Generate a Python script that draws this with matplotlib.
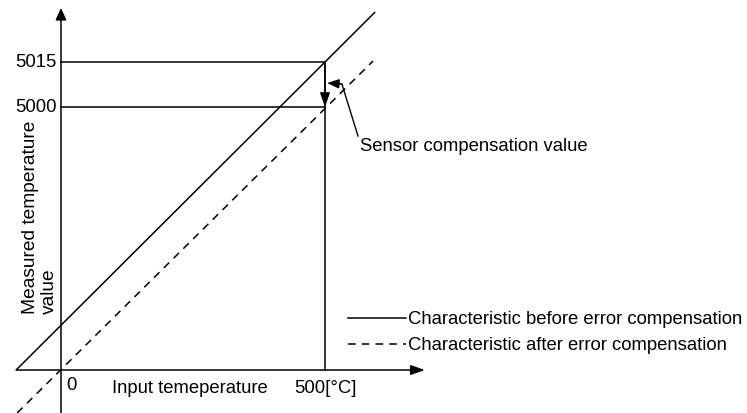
import matplotlib
matplotlib.use("Agg")
import matplotlib.pyplot as plt

plt.rcParams['font.family'] = ['Liberation Sans', 'DejaVu Sans']

# schematic data (x in degC, y in measured units; the 15-digit offset is drawn exaggerated)
before_x = [-85, 595]
before_y = [0, 6806]
after_x = [-83, 591]
after_y = [-817, 5874]
input_temp = 500
level_labels = ["5000", "5015"]
level_heights = [5000, 5856]

x_axis_ends = [-85, 689]
y_axis_ends = [-817, 6882]

fig = plt.figure(figsize=(7.47, 4.14), dpi=100)
ax = fig.add_axes([0, 0, 1, 1])
ax.set_xlim(-115.5, 1299.2)
ax.set_ylim(-817.5, 7053.2)
ax.axis('off')

lw = 1.1
fs = 13.3
k = 'black'

def arrow(x0, y0, x1, y1, hl, hw):
    ax.annotate('', xy=(x1, y1), xytext=(x0, y0),
                arrowprops=dict(arrowstyle='-|>,head_length=%g,head_width=%g' % (hl, hw),
                                lw=lw, color=k, shrinkA=0, shrinkB=0,
                                mutation_scale=10))

# axes with arrows
arrow(0, y_axis_ends[0], 0, y_axis_ends[1], 0.72, 0.33)
arrow(x_axis_ends[0], 0, x_axis_ends[1], 0, 0.85, 0.3)

# characteristic lines
ax.plot(before_x, before_y, color=k, lw=lw, solid_capstyle='butt')
ax.plot(after_x, after_y, color=k, lw=lw, linestyle=(0, (5, 4)))

# guide lines
ax.plot([input_temp, input_temp], [0, level_heights[1]], color=k, lw=lw)
for h in level_heights:
    ax.plot([0, input_temp], [h, h], color=k, lw=lw)

# compensation arrow
arrow(input_temp, level_heights[1], input_temp, level_heights[0], 0.85, 0.3)

# leader to annotation
ax.plot([532, 562.5], [5437, 4448], color=k, lw=lw * 0.9)
arrow(532, 5437, 504, 5456, 0.7, 0.28)
ax.text(566, 4277, "Sensor compensation value", fontsize=fs, ha='left', va='center')

# tick labels
for lab, h in zip(level_labels, level_heights):
    ax.text(-7.6, h, lab, fontsize=fs, ha='right', va='center')
ax.text(9.5, -285, "0", fontsize=fs, ha='left', va='center')
ax.text(input_temp, -342, "500[°C]", fontsize=fs, ha='center', va='center')
ax.text(96.6, -342, "Input temeperature", fontsize=fs, ha='left', va='center')
ax.text(-40, 1080, "Measured temperature\nvalue", fontsize=13.8, rotation=90,
        ha='center', va='bottom', multialignment='left', linespacing=1.15)

# legend
ax.plot([543.6, 653.4], [988, 988], color=k, lw=lw)
ax.plot([543.6, 653.4], [494, 494], color=k, lw=lw, linestyle=(0, (5, 4)))
ax.text(657, 988, "Characteristic before error compensation", fontsize=fs, ha='left', va='center')
ax.text(657, 494, "Characteristic after error compensation", fontsize=fs, ha='left', va='center')

fig.savefig('out.png', dpi=100)
